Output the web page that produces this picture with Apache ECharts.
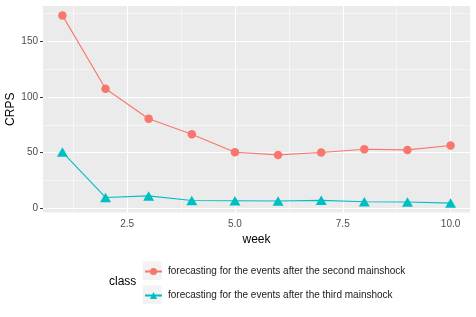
<!DOCTYPE html>
<html><head><meta charset="utf-8">
<script src="https://cdn.jsdelivr.net/npm/echarts@6/dist/echarts.min.js"></script>
<style>html,body{margin:0;padding:0;background:#fff}#c{width:476px;height:317px}</style>
</head><body><div id="c"></div>
<script>
const weeks = [1,2,3,4,5,6,7,8,9,10];
const secondMainshock = [173.3,107.4,80.5,66.5,50.4,48.0,50.1,53.1,52.5,56.4];
const thirdMainshock = [50.6,9.8,11.2,7.0,6.8,6.6,7.2,5.9,5.7,4.7];
const xTicks = [2.5,5,7.5,10];
const yTicks = [0,50,100,150];
const xMinor = [1.25,3.75,6.25,8.75];
const yMinor = [25,75,125,175];
const seriesNames = ['forecasting for the events after the second mainshock','forecasting for the events after the third mainshock'];

const allY = secondMainshock.concat(thirdMainshock);
const yLo = Math.min(...allY), yHi = Math.max(...allY);
const yPad = (yHi - yLo) * 0.05;
const xLo = Math.min(...weeks), xHi = Math.max(...weeks);
const xPad = (xHi - xLo) * 0.05;

const font = 'Liberation Sans, Arial, Helvetica, sans-serif';
const grid = [];
yTicks.forEach(v => grid.push({yAxis: v, lineStyle: {width: 1.1}}));
yMinor.forEach(v => grid.push({yAxis: v, lineStyle: {width: 0.5}}));
xTicks.forEach(v => grid.push({xAxis: v, lineStyle: {width: 1.1}}));
xMinor.forEach(v => grid.push({xAxis: v, lineStyle: {width: 0.5}}));

const chart = echarts.init(document.getElementById('c'), null, {renderer: 'canvas'});
chart.setOption({
  animation: false,
  backgroundColor: '#ffffff',
  textStyle: {fontFamily: font},
  grid: {left: 43, right: 6, top: 6, bottom: 104.5, show: true, backgroundColor: '#EBEBEB', borderWidth: 0, containLabel: false, outerBoundsMode: 'none'},
  title: {text: 'class', left: 109, top: 276, padding: 0, textStyle: {fontSize: 12, fontWeight: 'normal', color: '#000', fontFamily: font}},
  xAxis: {
    type: 'value', min: xLo - xPad, max: xHi + xPad,
    name: 'week', nameLocation: 'middle', nameGap: 20,
    nameTextStyle: {fontSize: 12, color: '#000', fontFamily: font},
    axisLine: {show: false},
    axisTick: {show: true, length: 3, lineStyle: {color: '#333', width: 1}, customValues: xTicks},
    axisLabel: {customValues: xTicks, color: '#4D4D4D', fontSize: 10, margin: 6.5, fontFamily: font, formatter: v => v.toFixed(1)},
    splitLine: {show: false}
  },
  yAxis: {
    type: 'value', min: yLo - yPad, max: yHi + yPad,
    name: 'CRPS', nameLocation: 'middle', nameGap: 26, nameRotate: 90, nameMoveOverlap: false,
    nameTextStyle: {fontSize: 12, color: '#000', fontFamily: font},
    axisLine: {show: false},
    axisTick: {show: true, length: 3, lineStyle: {color: '#333', width: 1}, customValues: yTicks},
    axisLabel: {customValues: yTicks, color: '#4D4D4D', fontSize: 10, margin: 5, fontFamily: font},
    splitLine: {show: false}
  },
  legend: {
    orient: 'vertical', left: 144, top: 266.5, itemWidth: 17, itemHeight: 9, itemGap: 14,
    textStyle: {fontSize: 10, color: '#1a1a1a', fontFamily: font, padding: [0,0,0,1]},
    data: seriesNames, padding: 0, selectedMode: false
  },
  graphic: [
    {type: 'rect', left: 143, top: 261.5, shape: {width: 18.5, height: 18.5}, style: {fill: '#F2F2F2'}, z: -1, silent: true},
    {type: 'rect', left: 143, top: 285.5, shape: {width: 18.5, height: 18.5}, style: {fill: '#F2F2F2'}, z: -1, silent: true}
  ],
  series: [
    {
      name: seriesNames[0], type: 'line', z: 3,
      data: weeks.map((w,i) => [w, secondMainshock[i]]),
      symbol: 'circle', symbolSize: 8.5,
      lineStyle: {color: '#F8766D', width: 1.1},
      itemStyle: {color: '#F8766D'},
      markLine: {silent: true, symbol: 'none', z: 1, label: {show: false}, lineStyle: {color: '#ffffff', type: 'solid'}, emphasis: {disabled: true}, data: grid}
    },
    {
      name: seriesNames[1], type: 'line', z: 3,
      data: weeks.map((w,i) => [w, thirdMainshock[i]]),
      symbol: 'triangle', symbolSize: [11, 9.5],
      lineStyle: {color: '#00BFC4', width: 1.1},
      itemStyle: {color: '#00BFC4'}
    }
  ]
});
</script></body></html>
